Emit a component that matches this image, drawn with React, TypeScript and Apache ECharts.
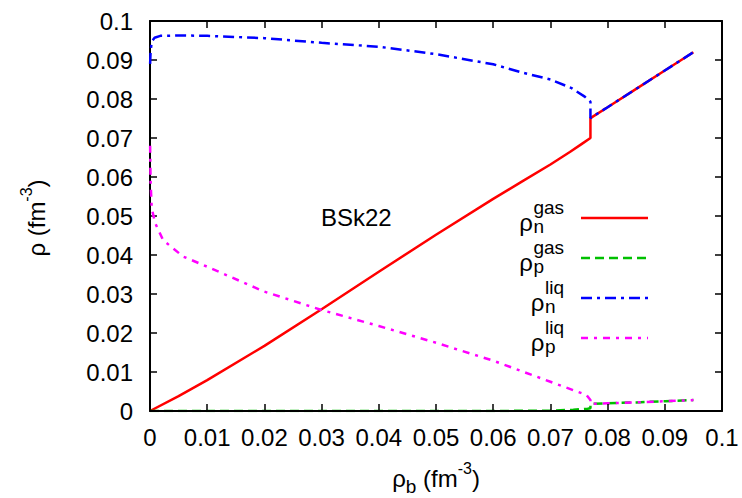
import React, { useEffect, useRef } from 'react';
import * as echarts from 'echarts';

// ρn gas (red, solid)
const nGasX = [0, 0.005, 0.01, 0.02, 0.03, 0.04, 0.05, 0.06, 0.065, 0.07, 0.0734, 0.0755, 0.077, 0.077, 0.08, 0.085, 0.09, 0.095];
const nGasY = [0, 0.0038, 0.0079, 0.0167, 0.0261, 0.0357, 0.0452, 0.0544, 0.0588, 0.0632, 0.0664, 0.0685, 0.07, 0.0751, 0.0779, 0.0826, 0.0873, 0.092];
// ρp gas (green, dashed)
const pGasX = [0, 0.01, 0.02, 0.03, 0.04, 0.05, 0.06, 0.07, 0.074, 0.0765, 0.077, 0.077, 0.08, 0.085, 0.09, 0.095];
const pGasY = [0, 0, 0, 0, 0, 0, 0, 0.0001, 0.0003, 0.0006, 0.0007, 0.0018, 0.002, 0.0022, 0.0025, 0.0028];
// ρn liq (blue, dash-dot)
const nLiqX = [0.00002, 0.0001, 0.0003, 0.0008, 0.0018, 0.0053, 0.01, 0.02, 0.03, 0.04, 0.05, 0.06, 0.0653, 0.07, 0.0737, 0.076, 0.077, 0.077, 0.08, 0.085, 0.09, 0.095];
const nLiqY = [0.089, 0.092, 0.0947, 0.0957, 0.0962, 0.0963, 0.0962, 0.0956, 0.0944, 0.0934, 0.0915, 0.0889, 0.0867, 0.085, 0.0828, 0.0806, 0.0793, 0.0751, 0.0779, 0.0826, 0.0873, 0.092];
// ρp liq (magenta, dash-dot-dot)
const pLiqX = [0.00002, 0.0001, 0.0003, 0.0009, 0.0023, 0.0058, 0.01, 0.02, 0.03, 0.04, 0.05, 0.06, 0.07, 0.0763, 0.077, 0.077, 0.08, 0.085, 0.09, 0.095];
const pLiqY = [0.068, 0.059, 0.052, 0.0482, 0.0438, 0.0396, 0.037, 0.0306, 0.0259, 0.0218, 0.0175, 0.0129, 0.0075, 0.0041, 0.0028, 0.0018, 0.002, 0.0022, 0.0025, 0.0028];

const legendSup = ['gas', 'gas', 'liq', 'liq'];
const legendSub = ['n', 'p', 'n', 'p'];
const colors = ['#ff0000', '#00c000', '#0000ff', '#ff00ff'];
const dashes: (string | number[])[] = ['solid', [9, 5], [11, 5, 3, 5], [7, 6, 3, 6]];
const annotation = 'BSk22';

const FONT = 'Liberation Sans, Arial, Helvetica, sans-serif';

function pairs(xs: number[], ys: number[]) {
  return xs.map((x, i) => [x, ys[i]]);
}

const fmt = (v: number) => String(Math.round(v * 100) / 100);

export default function App() {
  const ref = useRef<HTMLDivElement>(null);
  useEffect(() => {
    const chart = echarts.init(ref.current!, null, { renderer: 'svg' });
    const datasets = [pairs(nGasX, nGasY), pairs(pGasX, pGasY), pairs(nLiqX, nLiqY), pairs(pLiqX, pLiqY)];

    const axisCommon = {
      type: 'value' as const,
      min: 0,
      max: 0.1,
      interval: 0.01,
      splitLine: { show: false },
      axisLine: { show: true, onZero: false, lineStyle: { color: '#000', width: 2 } },
      axisTick: { show: true, inside: true, length: 7, lineStyle: { color: '#000', width: 1.5 } },
    };

    const legendGraphics: any[] = [];
    const lineY = [218, 258, 298, 338];
    const blockRight = 564;
    const supW: Record<string, number> = { gas: 30.6, liq: 19 };
    lineY.forEach((ly, i) => {
      const left = blockRight - supW[legendSup[i]];
      legendGraphics.push({
        type: 'line',
        shape: { x1: 581, y1: ly, x2: 648, y2: ly },
        style: { stroke: colors[i], lineWidth: 2.5, lineDash: Array.isArray(dashes[i]) ? dashes[i] : null },
      });
      legendGraphics.push({
        type: 'text', x: left - 0.5, y: ly + 4.3,
        style: { text: 'ρ', font: `24px ${FONT}`, fill: '#000', align: 'right', verticalAlign: 'middle' },
      });
      legendGraphics.push({
        type: 'text', x: left, y: ly - 10.4,
        style: { text: legendSup[i], font: `19px ${FONT}`, fill: '#000', align: 'left', verticalAlign: 'middle' },
      });
      legendGraphics.push({
        type: 'text', x: left, y: ly + 8.6,
        style: { text: legendSub[i], font: `19px ${FONT}`, fill: '#000', align: 'left', verticalAlign: 'middle' },
      });
    });

    const rich = {
      a: { fontSize: 24, lineHeight: 36, fontFamily: FONT, fill: '#000' },
      sub: { fontSize: 19, lineHeight: 19, verticalAlign: 'bottom', fontFamily: FONT, fill: '#000' },
      sup: { fontSize: 16, lineHeight: 16, verticalAlign: 'top', fontFamily: FONT, fill: '#000' },
    };

    const option: any = {
      animation: false,
      backgroundColor: '#fff',
      grid: { left: 150, right: 20, top: 21, bottom: 87, containLabel: false },
      xAxis: [
        {
          ...axisCommon,
          position: 'bottom',
          z: 5,
          axisLabel: { show: true, margin: 14, fontSize: 24, fontFamily: FONT, color: '#000', formatter: fmt },
        },
        { ...axisCommon, position: 'top', axisLabel: { show: false } },
      ],
      yAxis: [
        {
          ...axisCommon,
          position: 'left',
          axisLabel: { show: true, margin: 17, fontSize: 24, fontFamily: FONT, color: '#000', formatter: fmt },
        },
        { ...axisCommon, position: 'right', axisLabel: { show: false } },
      ],
      series: datasets.map((d, i) => ({
        type: 'line',
        data: d,
        showSymbol: false,
        symbol: 'none',
        xAxisIndex: 0,
        yAxisIndex: 0,
        lineStyle: { color: colors[i], width: 2.5, type: dashes[i] },
      })),
      graphic: [
        ...legendGraphics,
        {
          type: 'text', x: 321, y: 217,
          style: { text: annotation, font: `24px ${FONT}`, fill: '#000', align: 'left', verticalAlign: 'middle' },
        },
        {
          type: 'text', x: 436, y: 478,
          style: { text: '{a|ρ}{sub|b}{a| (fm}{sup|-3}{a|)}', rich, align: 'center', verticalAlign: 'middle' },
        },
        {
          type: 'text', x: 36, y: 218, rotation: Math.PI / 2,
          style: { text: '{a|ρ (fm}{sup|-3}{a|)}', rich, align: 'center', verticalAlign: 'middle' },
        },
      ],
    };
    chart.setOption(option);
    return () => chart.dispose();
  }, []);
  return <div ref={ref} style={{ position: 'fixed', left: 0, top: 0, width: 742, height: 498 }} />;
}
